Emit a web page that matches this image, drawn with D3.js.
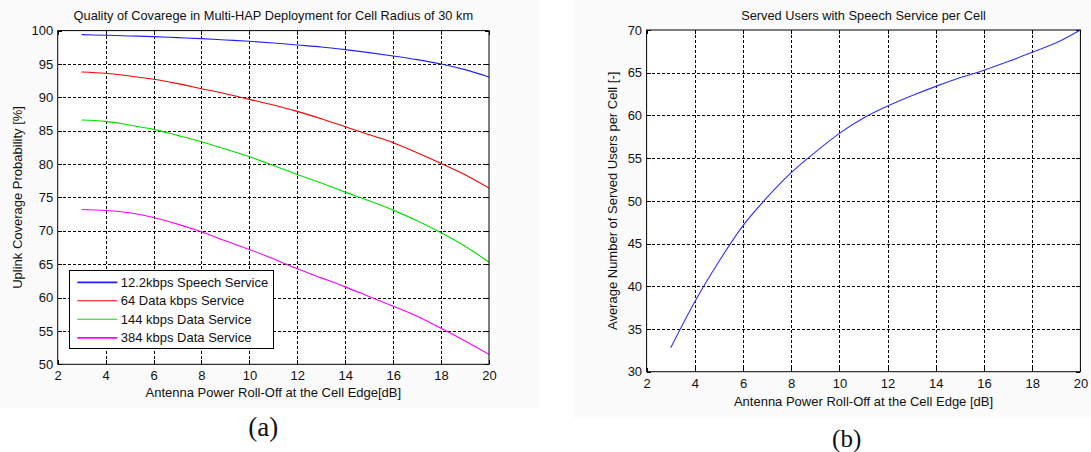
<!DOCTYPE html>
<html>
<head>
<meta charset="utf-8">
<script src="https://cdn.jsdelivr.net/npm/d3@7"></script>
<style>
  html, body { margin: 0; padding: 0; background: #ffffff; }
  svg { display: block; }
  text { font-family: "Liberation Sans", Arial, Helvetica, sans-serif; fill: #111; }
  .cap { font-family: "Liberation Serif", "Times New Roman", serif; }
</style>
</head>
<body>
<svg id="fig" width="1091" height="452"></svg>
<script>
// Antenna power roll-off at the cell edge [dB]
const rollOff = [3, 4, 5, 6, 7, 8, 9, 10, 11, 12, 13, 14, 15, 16, 17, 18, 19, 20];

// (a) uplink coverage probability [%] per service
const speech122 = [99.4, 99.3, 99.2, 99.1, 98.95, 98.8, 98.6, 98.4, 98.15, 97.85, 97.55, 97.15, 96.7, 96.2, 95.65, 95.0, 94.15, 93.05];
const data64    = [93.8, 93.6, 93.2, 92.7, 92.05, 91.3, 90.55, 89.7, 88.85, 87.9, 86.8, 85.6, 84.4, 83.2, 81.7, 80.1, 78.4, 76.4];
const data144   = [86.6, 86.4, 85.85, 85.2, 84.3, 83.35, 82.25, 81.1, 79.8, 78.45, 77.15, 75.8, 74.5, 73.1, 71.5, 69.7, 67.7, 65.3];
const data384   = [73.2, 73.05, 72.7, 72.0, 71.0, 69.85, 68.5, 67.2, 65.8, 64.3, 62.95, 61.6, 60.15, 58.7, 57.2, 55.4, 53.5, 51.5];

const seriesNames  = ["12.2kbps Speech Service", "64 Data kbps Service", "144 kbps Data Service", "384 kbps Data Service"];
const seriesColors = ["#2020ff", "#ff0000", "#00e000", "#ff00ff"];

// (b) average number of served speech users per cell
const servedUsers = [32.8, 38.2, 42.9, 47.1, 50.4, 53.3, 55.7, 57.9, 59.7, 61.1, 62.3, 63.4, 64.4, 65.3, 66.3, 67.4, 68.5, 70.0];

// tick values
const xTicks  = [2, 4, 6, 8, 10, 12, 14, 16, 18, 20];
const yTicksA = [50, 55, 60, 65, 70, 75, 80, 85, 90, 95, 100];
const yTicksB = [30, 35, 40, 45, 50, 55, 60, 65, 70];

const svg = d3.select("#fig");

// faint figure backgrounds
svg.append("rect").attr("x", 0).attr("y", 0).attr("width", 540).attr("height", 408).attr("fill", "#fbfbfb");
svg.append("rect").attr("x", 573).attr("y", 0).attr("width", 518).attr("height", 418).attr("fill", "#fbfbfb");

function drawAxes(cfg) {
  const x = d3.scaleLinear().domain([2, 20]).range([cfg.left, cfg.right]);
  const y = d3.scaleLinear().domain(cfg.yDomain).range([cfg.bottom, cfg.top]);
  const g = svg.append("g");

  g.append("rect")
    .attr("x", cfg.left).attr("y", cfg.top)
    .attr("width", cfg.right - cfg.left).attr("height", cfg.bottom - cfg.top)
    .attr("fill", "#ffffff");

  // dotted grid
  const grid = g.append("g").attr("stroke", "#000").attr("stroke-width", 1)
    .attr("stroke-dasharray", "3,2").attr("shape-rendering", "crispEdges");
  grid.selectAll("line.gx").data(xTicks.slice(1, -1)).join("line")
    .attr("x1", d => Math.round(x(d)) + 0.5).attr("x2", d => Math.round(x(d)) + 0.5)
    .attr("y1", cfg.top).attr("y2", cfg.bottom);
  grid.selectAll("line.gy").data(cfg.yTicks.slice(1, -1)).join("line")
    .attr("y1", d => Math.round(y(d)) + 0.5).attr("y2", d => Math.round(y(d)) + 0.5)
    .attr("x1", cfg.left).attr("x2", cfg.right);

  // inward tick marks on all four sides
  const tk = g.append("g").attr("stroke", "#000").attr("stroke-width", 1).attr("shape-rendering", "crispEdges");
  const tl = 4;
  xTicks.forEach(d => {
    const px = Math.round(x(d)) + 0.5;
    tk.append("line").attr("x1", px).attr("x2", px).attr("y1", cfg.bottom).attr("y2", cfg.bottom - tl);
    tk.append("line").attr("x1", px).attr("x2", px).attr("y1", cfg.top).attr("y2", cfg.top + tl);
  });
  cfg.yTicks.forEach(d => {
    const py = Math.round(y(d)) + 0.5;
    tk.append("line").attr("y1", py).attr("y2", py).attr("x1", cfg.left).attr("x2", cfg.left + tl);
    tk.append("line").attr("y1", py).attr("y2", py).attr("x1", cfg.right).attr("x2", cfg.right - tl);
  });

  // tick labels through d3 axes
  const ax = g.append("g").attr("transform", `translate(0,${cfg.bottom})`)
    .call(d3.axisBottom(x).tickValues(xTicks).tickSize(0).tickPadding(cfg.xPad).tickFormat(d3.format("d")));
  const ay = g.append("g").attr("transform", `translate(${cfg.left},0)`)
    .call(d3.axisLeft(y).tickValues(cfg.yTicks).tickSize(0).tickPadding(4.5).tickFormat(d3.format("d")));
  [ax, ay].forEach(a => {
    a.select(".domain").remove();
    a.selectAll("text").attr("font-size", 13).attr("fill", "#111")
      .attr("font-family", "Liberation Sans, Arial, sans-serif");
  });

  g.append("text").attr("x", (cfg.left + cfg.right) / 2).attr("y", 20)
    .attr("text-anchor", "middle").attr("font-size", 12.8).text(cfg.title);
  g.append("text").attr("x", (cfg.left + cfg.right) / 2).attr("y", cfg.xLabelY)
    .attr("text-anchor", "middle").attr("font-size", 13).text(cfg.xLabel);
  g.append("text")
    .attr("transform", `translate(${cfg.yLabelX},${(cfg.top + cfg.bottom) / 2}) rotate(-90)`)
    .attr("text-anchor", "middle").attr("font-size", 13).text(cfg.yLabel);

  return { x, y, g };
}

// ---------- (a) coverage probability ----------
const A = drawAxes({
  left: 57.7, right: 489, top: 30.6, bottom: 364.3,
  yDomain: [50, 100], yTicks: yTicksA, xPad: 6.5,
  title: "Quality of Covarege in Multi-HAP Deployment for Cell Radius of 30 km",
  xLabel: "Antenna Power Roll-Off at the Cell Edge[dB]", xLabelY: 397,
  yLabel: "Uplink Coverage Probability [%]", yLabelX: 22
});

const seriesA = [speech122, data64, data144, data384];
const lineA = d3.line().x(d => A.x(d[0])).y(d => A.y(d[1])).curve(d3.curveMonotoneX);
const clipA = svg.append("clipPath").attr("id", "clipA").append("rect")
  .attr("x", 57.7).attr("y", 30.6).attr("width", 489 - 57.7).attr("height", 364.3 - 30.6);
seriesA.forEach((vals, i) => {
  A.g.append("path")
    .datum(rollOff.map((r, k) => [r, vals[k]]))
    .attr("fill", "none").attr("stroke", seriesColors[i]).attr("stroke-width", 1.1)
    .attr("clip-path", "url(#clipA)")
    .attr("d", lineA);
});

// axes box on top
A.g.append("rect").attr("x", 57.7).attr("y", 30.6).attr("width", 489 - 57.7).attr("height", 364.3 - 30.6)
  .attr("fill", "none").attr("stroke", "#000").attr("stroke-width", 1);

// legend
const leg = A.g.append("g");
leg.append("rect").attr("x", 69.5).attr("y", 270.5).attr("width", 204).attr("height", 78)
  .attr("fill", "#fff").attr("stroke", "#000").attr("stroke-width", 1);
seriesNames.forEach((name, i) => {
  const cy = 282.3 + i * 18.5;
  leg.append("line").attr("x1", 77.3).attr("x2", 117.3).attr("y1", cy).attr("y2", cy)
    .attr("stroke", seriesColors[i]).attr("stroke-width", i === 0 || i === 3 ? 1.8 : 1.1);
  leg.append("text").attr("x", 120.7).attr("y", cy + 4.6).attr("font-size", 13).text(name);
});

svg.append("text").attr("class", "cap").attr("x", 263.3).attr("y", 436)
  .attr("text-anchor", "middle").attr("font-size", 27).text("(a)");

// ---------- (b) served users ----------
const B = drawAxes({
  left: 646.6, right: 1080.4, top: 30, bottom: 371.7,
  yDomain: [30, 70], yTicks: yTicksB, xPad: 7.1,
  title: "Served Users with Speech Service per Cell",
  xLabel: "Antenna Power Roll-Off at the Cell Edge [dB]", xLabelY: 406,
  yLabel: "Average Number of Served Users per Cell [-]", yLabelX: 617
});

const lineB = d3.line().x(d => B.x(d[0])).y(d => B.y(d[1])).curve(d3.curveMonotoneX);
B.g.append("path")
  .datum(rollOff.map((r, k) => [r, servedUsers[k]]))
  .attr("fill", "none").attr("stroke", "#3030ff").attr("stroke-width", 1.1)
  .attr("d", lineB);

B.g.append("rect").attr("x", 646.6).attr("y", 30).attr("width", 1080.4 - 646.6).attr("height", 371.7 - 30)
  .attr("fill", "none").attr("stroke", "#000").attr("stroke-width", 1);

svg.append("text").attr("class", "cap").attr("x", 846.7).attr("y", 447)
  .attr("text-anchor", "middle").attr("font-size", 25).text("(b)");
</script>
</body>
</html>
